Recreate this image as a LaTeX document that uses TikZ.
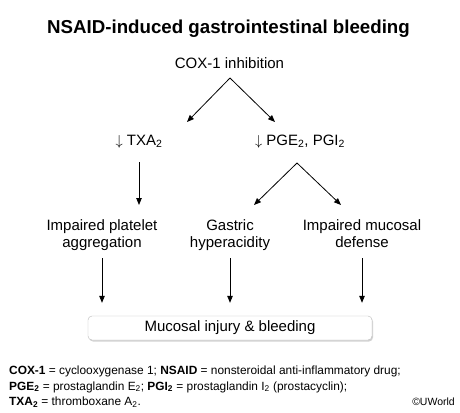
\documentclass[tikz,border=0pt]{standalone}
\usepackage{fontspec}
\setmainfont{Liberation Sans}
\usetikzlibrary{arrows.meta, shadows, calc}

\begin{document}
\begin{tikzpicture}[x=1pt, y=-1pt,
    lbl/.style={inner sep=0, font=\fontsize{15}{17}\selectfont, align=center},
    arr/.style={-{Triangle[length=7pt, width=5.5pt]}, line width=0.8pt},
    box/.style={draw=gray!55, fill=white, rounded corners=4pt, minimum width=284pt, minimum height=24pt, inner sep=0,
        drop shadow={shadow xshift=1pt, shadow yshift=-1.5pt, fill=gray!70}}]
    \useasboundingbox (0, 0) rectangle (460, 412);

    \node[anchor=base, font=\fontsize{18.7}{22}\selectfont\bfseries] (title) at (228.5, 33.5) {NSAID-induced gastrointestinal bleeding};

    \node[lbl, anchor=base] (cox) at (229.5, 68.3) {COX-1 inhibition};
    \node[lbl, anchor=base] (txa) at (139, 145) {$\downarrow$ TXA\textsubscript{2}};
    \node[lbl, anchor=base] (pge) at (300, 145) {$\downarrow$ PGE\textsubscript{2}, PGI\textsubscript{2}};

    \node[lbl, anchor=north] (plt) at (102, 219) {Impaired platelet\\aggregation};
    \node[lbl, anchor=north] (gas) at (230, 219) {Gastric\\hyperacidity};
    \node[lbl, anchor=north] (muc) at (362, 219) {Impaired mucosal\\defense};

    \node[box, font=\fontsize{15}{17}\selectfont] (inj) at (230, 328) {Mucosal injury \& bleeding};

    % split points and arrow tips
    \coordinate (s1) at (230, 78);
    \coordinate (s1l) at (187, 122);
    \coordinate (s1r) at (275, 122);
    \coordinate (s2) at (297, 163);
    \coordinate (s2l) at (254, 205);
    \coordinate (s2r) at (341, 205);
    \coordinate (t1) at (139, 162);
    \coordinate (t2) at (139, 205);

    \draw
    (s1) edge[arr] (s1l)
    (s1) edge[arr] (s1r)
    (s2) edge[arr] (s2l)
    (s2) edge[arr] (s2r)
    (t1) edge[arr] (t2);

    \foreach \n in {plt, gas, muc} {
        \draw[arr] ([yshift=-39pt]\n.north) -- ([yshift=13pt]\n.north |- inj.north);
    }

    \node[anchor=north west, inner sep=0, align=left, font=\fontsize{11.9}{15.3}\selectfont] (key) at (9, 366)
    {\textbf{COX-1} = cyclooxygenase 1; \textbf{NSAID} = nonsteroidal anti-inflammatory drug;\\
     \textbf{PGE\textsubscript{2}} = prostaglandin E\textsubscript{2}; \textbf{PGI\textsubscript{2}} = prostaglandin I\textsubscript{2} (prostacyclin);\\
     \textbf{TXA\textsubscript{2}} = thromboxane A\textsubscript{2}.};
    \node[anchor=base east, inner sep=0, font=\fontsize{10.5}{12}\selectfont] (uw) at (455, 405) {©UWorld};
\end{tikzpicture}
\end{document}
